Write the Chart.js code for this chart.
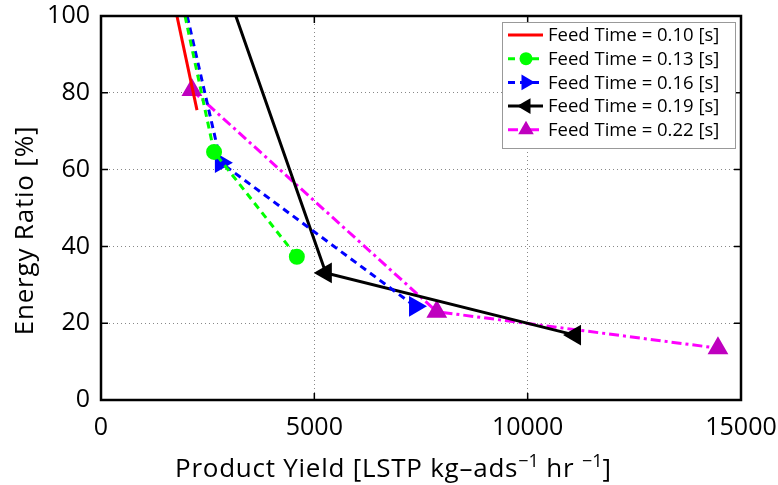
<!DOCTYPE html>
<html>
<head>
<meta charset="utf-8">
<script src="https://cdn.jsdelivr.net/npm/chart.js@4/dist/chart.umd.min.js"></script>
<style>
  html, body { margin: 0; padding: 0; background: #fff; }
  #wrap { width: 778px; height: 485px; }
</style>
</head>
<body>
<div id="wrap"><canvas id="c" width="778" height="485"></canvas></div>
<script>
// values
const feedTimes = ['0.10', '0.13', '0.16', '0.19', '0.22'];

const yield010 = [1780, 2250];
const ratio010 = [100, 75.5];

const yield013 = [1970, 2650, 4590];
const ratio013 = [100, 64.6, 37.3];

const yield016 = [2020, 2810, 7360];
const ratio016 = [100, 61.8, 24.4];

const yield019 = [3160, 5270, 11110];
const ratio019 = [100, 33.1, 16.9];

const yield022 = [2130, 7870, 14460];
const ratio022 = [80.7, 23.0, 13.5];

const xTicks = [0, 5000, 10000, 15000];
const yTicks = [0, 20, 40, 60, 80, 100];

const xTitle = ['Product Yield [LSTP kg\u2013ads', '\u22121', ' hr ', '\u22121', ']'];
const yTitle = 'Energy Ratio [%]';

const FONT = '"Open Sans", "Liberation Sans", sans-serif';

function pts(xs, ys) {
    return xs.map((x, i) => ({ x: x, y: ys[i] }));
}

// first point of the lines that run off the top has no marker
const hideFirst = r => ctx => ctx.dataIndex === 0 ? 0 : r;

const datasets = [
    {
        label: 'Feed Time = ' + feedTimes[0] + ' [s]',
        data: pts(yield010, ratio010),
        borderColor: '#ff0000',
        borderWidth: 3,
        pointRadius: 0,
        markerColor: '#ff0000'
    },
    {
        label: 'Feed Time = ' + feedTimes[1] + ' [s]',
        data: pts(yield013, ratio013),
        borderColor: '#00ff00',
        borderWidth: 3,
        borderDash: [7, 5],
        pointStyle: 'circle',
        pointRadius: hideFirst(6.5),
        pointBackgroundColor: '#00ff00',
        pointBorderColor: '#00ff00',
        markerColor: '#00ff00'
    },
    {
        label: 'Feed Time = ' + feedTimes[2] + ' [s]',
        data: pts(yield016, ratio016),
        borderColor: '#0000ff',
        borderWidth: 3,
        borderDash: [7, 5],
        pointStyle: 'triangle',
        pointRotation: 90,
        pointRadius: hideFirst(9),
        pointBackgroundColor: '#0000ff',
        pointBorderColor: '#0000ff',
        markerColor: '#0000ff'
    },
    {
        label: 'Feed Time = ' + feedTimes[3] + ' [s]',
        data: pts(yield019, ratio019),
        borderColor: '#000000',
        borderWidth: 3,
        pointStyle: 'triangle',
        pointRotation: -90,
        pointRadius: hideFirst(9),
        pointBackgroundColor: '#000000',
        pointBorderColor: '#000000',
        markerColor: '#000000'
    },
    {
        label: 'Feed Time = ' + feedTimes[4] + ' [s]',
        data: pts(yield022, ratio022),
        borderColor: '#ff00ff',
        borderWidth: 3,
        borderDash: [10, 4, 3, 4],
        pointStyle: 'triangle',
        pointRotation: 0,
        pointRadius: 9,
        pointBackgroundColor: '#bf00bf',
        pointBorderColor: '#bf00bf',
        markerColor: '#bf00bf'
    }
];

function drawMarker(ctx, style, rot, r, x, y) {
    ctx.save();
    ctx.translate(x, y);
    ctx.rotate(rot * Math.PI / 180);
    ctx.beginPath();
    if (style === 'circle') {
        ctx.arc(0, 0, r, 0, Math.PI * 2);
    } else {
        ctx.moveTo(0, -r);
        ctx.lineTo(r * 0.866, r * 0.5);
        ctx.lineTo(-r * 0.866, r * 0.5);
        ctx.closePath();
    }
    ctx.fill();
    ctx.restore();
}

// box round the plot, inward ticks, axis titles and the legend, MATLAB style
const framePlugin = {
    id: 'frame',
    afterDatasetsDraw(chart) {
        const { ctx, chartArea: a, scales } = chart;
        ctx.save();
        ctx.strokeStyle = '#000';
        ctx.lineWidth = 1.5;
        ctx.beginPath();
        xTicks.forEach(v => {
            const px = scales.x.getPixelForValue(v);
            ctx.moveTo(px, a.bottom); ctx.lineTo(px, a.bottom - 7);
            ctx.moveTo(px, a.top); ctx.lineTo(px, a.top + 7);
        });
        yTicks.forEach(v => {
            const py = scales.y.getPixelForValue(v);
            ctx.moveTo(a.left, py); ctx.lineTo(a.left + 7, py);
            ctx.moveTo(a.right, py); ctx.lineTo(a.right - 7, py);
        });
        ctx.stroke();
        ctx.lineWidth = 2.5;
        ctx.strokeRect(a.left, a.top, a.right - a.left, a.bottom - a.top);

        // x title with superscripts
        ctx.fillStyle = '#000';
        ctx.textBaseline = 'alphabetic';
        ctx.textAlign = 'left';
        let tx = 175;
        const ty = 477;
        xTitle.forEach((part, i) => {
            const sup = i === 1 || i === 3;
            ctx.font = (sup ? '18px ' : '26px ') + FONT;
            ctx.letterSpacing = sup ? '0px' : '0.75px';
            ctx.fillText(part, tx, sup ? ty - 10 : ty);
            tx += ctx.measureText(part).width;
        });
        ctx.letterSpacing = '0px';

        // y title
        ctx.save();
        ctx.translate(33, 230.5);
        ctx.rotate(-Math.PI / 2);
        ctx.font = '26px ' + FONT;
        ctx.letterSpacing = '0.8px';
        ctx.textAlign = 'center';
        ctx.fillText(yTitle, 0, 0);
        ctx.restore();

        // legend
        const bx = 502, by = 22, bw = 233, bh = 126;
        ctx.fillStyle = '#fff';
        ctx.fillRect(bx, by, bw, bh);
        ctx.strokeStyle = '#999';
        ctx.lineWidth = 1;
        ctx.strokeRect(bx + 0.5, by + 0.5, bw, bh);
        ctx.font = '18.5px ' + FONT;
        ctx.textBaseline = 'middle';
        chart.data.datasets.forEach((ds, i) => {
            const cy = 35 + i * 23.7;
            ctx.strokeStyle = ds.borderColor;
            ctx.lineWidth = 3;
            ctx.setLineDash(ds.borderDash || []);
            ctx.beginPath();
            ctx.moveTo(508, cy); ctx.lineTo(543, cy);
            ctx.stroke();
            ctx.setLineDash([]);
            if (ds.pointStyle) {
                ctx.fillStyle = ds.markerColor;
                const r = ds.pointStyle === 'circle' ? 6.5 : 9;
                drawMarker(ctx, ds.pointStyle, ds.pointRotation || 0, r, 526, cy);
            }
            ctx.fillStyle = '#000';
            ctx.fillText(ds.label, 548, cy + 1);
        });
        ctx.restore();
    }
};

new Chart(document.getElementById('c'), {
    type: 'line',
    data: { datasets: datasets },
    options: {
        responsive: false,
        animation: false,
        devicePixelRatio: 1,
        layout: { padding: { top: 16, right: 37, left: 0, bottom: 0 } },
        plugins: {
            legend: { display: false },
            tooltip: { enabled: false }
        },
        elements: { line: { tension: 0 } },
        scales: {
            x: {
                type: 'linear',
                min: 0,
                max: 15000,
                afterBuildTicks: ax => { ax.ticks = xTicks.map(v => ({ value: v })); },
                afterFit: ax => { ax.height = 85; },
                grid: { color: '#888', lineWidth: 1, drawTicks: true, tickLength: 13, tickColor: 'rgba(0,0,0,0)' },
                border: { display: false, dash: [1, 3] },
                ticks: { color: '#000', font: { family: FONT, size: 25 }, padding: 0, maxRotation: 0,
                         callback: v => String(v) },
                title: { display: false }
            },
            y: {
                type: 'linear',
                min: 0,
                max: 100,
                afterBuildTicks: ax => { ax.ticks = yTicks.map(v => ({ value: v })); },
                afterFit: ax => { ax.width = 101; },
                grid: { color: '#888', lineWidth: 1, drawTicks: true, tickLength: 11, tickColor: 'rgba(0,0,0,0)' },
                border: { display: false, dash: [1, 3] },
                ticks: { color: '#000', font: { family: FONT, size: 25 }, padding: 0 },
                title: { display: false }
            }
        }
    },
    plugins: [framePlugin]
});
</script>
</body>
</html>
